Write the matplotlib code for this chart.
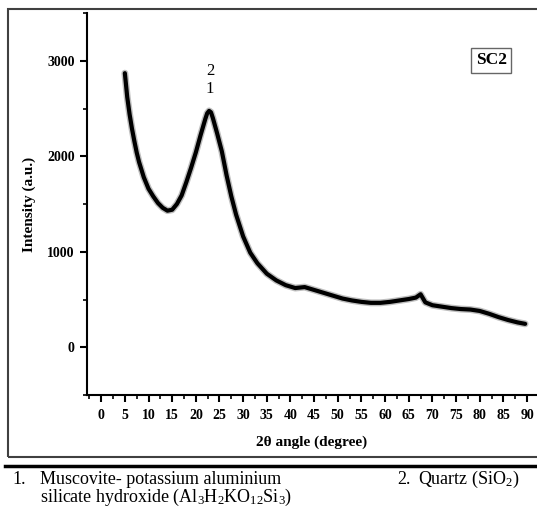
import matplotlib
matplotlib.use("Agg")
import matplotlib.pyplot as plt
from matplotlib.ticker import MultipleLocator
from matplotlib.patches import Rectangle
from matplotlib.lines import Line2D

plt.rcParams['font.family'] = ['Liberation Serif', 'DejaVu Serif']
plt.rcParams['mathtext.default'] = 'regular'

# XRD pattern of SC2 (2-theta in degrees, intensity in a.u.)
two_theta = [5, 5.5, 6, 6.5, 7, 7.5, 8, 9, 10, 11, 12, 13, 14, 15, 16, 17,
             18, 19, 20, 21, 22, 22.4, 22.8, 23.2, 23.6, 24.5, 25.5, 26.5,
             27.5, 28.5, 30, 31.5, 33, 35, 37, 39, 41, 43, 45, 47, 49, 51,
             53, 55, 57, 59, 61, 63, 65, 66.5, 67.5, 68.5, 70, 72, 74, 76,
             78, 80, 82, 84, 86, 88, 89.6]
intensity = [2870, 2620, 2440, 2290, 2160, 2040, 1940, 1780, 1660, 1580,
             1510, 1460, 1430, 1440, 1500, 1590, 1730, 1880, 2040, 2220,
             2390, 2450, 2475, 2460, 2400, 2240, 2050, 1800, 1580, 1390,
             1160, 990, 880, 770, 700, 650, 620, 630, 600, 570, 540, 510,
             490, 475, 465, 465, 475, 490, 505, 520, 555, 470, 440, 425,
             410, 400, 395, 380, 350, 315, 285, 260, 245]

peak_labels = ["2", "1"]
peak_pos = 23
sample_name = "SC2"
caption_1 = ["1.", "Muscovite- potassium aluminium",
             "silicate hydroxide (Al$_3$H$_2$KO$_{12}$Si$_3$)"]
caption_2 = ["2.", "Quartz (SiO$_2$)"]

W, H = 537, 513
fig = plt.figure(figsize=(W / 100, H / 100), dpi=100)
ax = fig.add_axes([87 / W, 1 - 395 / H, 1 - 87 / W, (395 - 13) / H])

ax.plot(two_theta, intensity, color='black', lw=5.0, alpha=0.25,
        solid_capstyle='round', solid_joinstyle='round')
ax.plot(two_theta, intensity, color='black', lw=3.0,
        solid_capstyle='round', solid_joinstyle='round')

ax.set_xlim(-3, 92.1)
ax.set_ylim(-500, 3500)
ax.xaxis.set_major_locator(MultipleLocator(5))
ax.xaxis.set_minor_locator(MultipleLocator(2.5))
ax.yaxis.set_major_locator(MultipleLocator(1000))
ax.yaxis.set_minor_locator(MultipleLocator(500))

for s in ['top', 'right']:
    ax.spines[s].set_visible(False)
for s in ['left', 'bottom']:
    ax.spines[s].set_linewidth(1.5)
ax.tick_params(which='major', direction='out', length=5, width=1.5,
               labelsize=10)
ax.tick_params(which='minor', direction='out', length=3, width=1.2)
ax.tick_params(axis='x', pad=5)
ax.tick_params(axis='y', pad=4)
for lab in ax.get_xticklabels() + ax.get_yticklabels():
    lab.set_fontweight('bold')

ax.set_xlabel("2θ angle (degree)", fontsize=11, fontweight='bold', labelpad=10)
ax.set_ylabel("Intensity (a.u.)", fontsize=11, fontweight='bold', labelpad=8)

ax.text(peak_pos, 2895, peak_labels[0], ha='center', va='center', fontsize=12)
ax.text(peak_pos, 2705, peak_labels[1], ha='center', va='center', fontsize=12)

ax.text(82.4, 3005, sample_name, ha='center', va='center', fontsize=12.5,
        fontweight='bold',
        bbox=dict(boxstyle='square,pad=0.25', fc='white', ec='0.4', lw=1.0))

# outer frame around the plot panel and the rule under it
fig.add_artist(Rectangle((8 / W, 1 - 457 / H), 1.0, (457 - 9) / H,
                         transform=fig.transFigure, fill=False,
                         ec='0.25', lw=1.5))
fig.add_artist(Line2D([5 / W, 1.0], [1 - 466 / H, 1 - 466 / H],
                      transform=fig.transFigure, color='black', lw=2.5))

fig.text(12 / W, 1 - 479 / H, caption_1[0], fontsize=13, va='center')
fig.text(40 / W, 1 - 479 / H, caption_1[1], fontsize=13, va='center')
fig.text(40 / W, 1 - 497 / H, caption_1[2], fontsize=13, va='center')
fig.text(397 / W, 1 - 479 / H, caption_2[0], fontsize=13, va='center')
fig.text(418 / W, 1 - 479 / H, caption_2[1], fontsize=13, va='center')

fig.savefig("out.png", dpi=100)
